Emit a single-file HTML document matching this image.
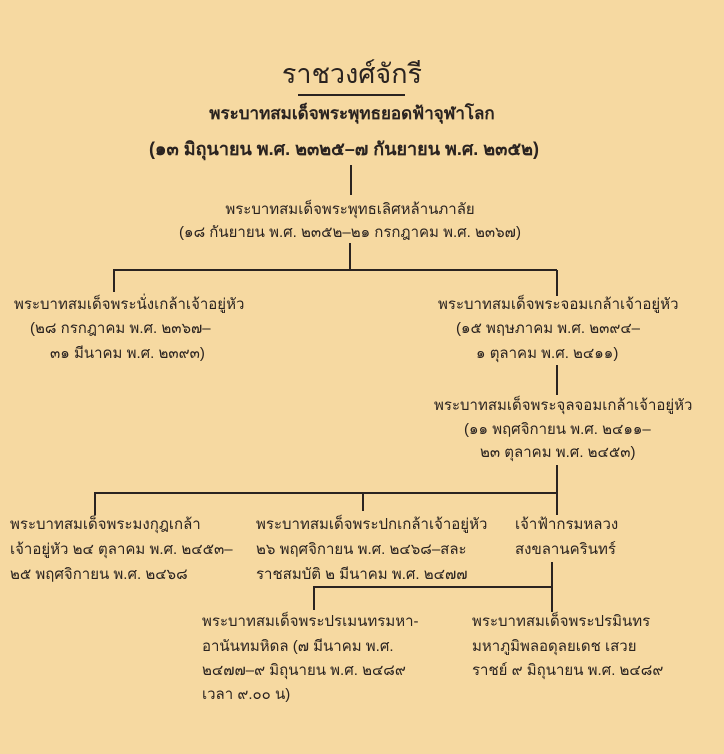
<!DOCTYPE html>
<html><head><meta charset="utf-8"><style>
html,body{margin:0;padding:0}
body{width:724px;height:754px;background:#f6d9a1;position:relative;overflow:hidden;font-family:"Liberation Sans",sans-serif;color:#2a2320}
.t{position:absolute;white-space:nowrap;font-size:15px;line-height:18px}
.c{transform:translateX(-50%);text-align:center}
.l{position:absolute;background:#2a2320}
</style></head><body>
<div class="t c" style="left:352px;top:58px;font-size:27px;line-height:32px">ราชวงศ์จักรี</div>
<div class="l" style="left:298px;top:94px;width:107px;height:2px"></div>
<div class="t c" style="left:352px;top:105px;font-size:17px;font-weight:bold">พระบาทสมเด็จพระพุทธยอดฟ้าจุฬาโลก</div>
<div class="t c" style="left:344px;top:140px;font-size:18px;font-weight:bold">(๑๓ มิถุนายน พ.ศ. ๒๓๒๕–๗ กันยายน พ.ศ. ๒๓๕๒)</div>
<div class="l" style="left:350px;top:165px;width:1.5px;height:30px"></div>
<div class="t c" style="left:350px;top:201px">พระบาทสมเด็จพระพุทธเลิศหล้านภาลัย</div>
<div class="t c" style="left:350px;top:224px">(๑๘ กันยายน พ.ศ. ๒๓๕๒–๒๑ กรกฎาคม พ.ศ. ๒๓๖๗)</div>
<div class="l" style="left:349px;top:243px;width:1.5px;height:27px"></div>
<div class="l" style="left:113px;top:269px;width:444px;height:2px"></div>
<div class="l" style="left:113px;top:270px;width:1.5px;height:22px"></div>
<div class="l" style="left:556px;top:270px;width:1.5px;height:26px"></div>
<div class="t" style="left:14px;top:296px">พระบาทสมเด็จพระนั่งเกล้าเจ้าอยู่หัว</div>
<div class="t" style="left:30px;top:320px">(๒๘ กรกฎาคม พ.ศ. ๒๓๖๗–</div>
<div class="t" style="left:50px;top:345px">๓๑ มีนาคม พ.ศ. ๒๓๙๓)</div>
<div class="t" style="left:438px;top:296px">พระบาทสมเด็จพระจอมเกล้าเจ้าอยู่หัว</div>
<div class="t" style="left:456px;top:320px">(๑๕ พฤษภาคม พ.ศ. ๒๓๙๔–</div>
<div class="t" style="left:476px;top:345px">๑ ตุลาคม พ.ศ. ๒๔๑๑)</div>
<div class="l" style="left:556px;top:365px;width:1.5px;height:30px"></div>
<div class="t" style="left:434px;top:397px">พระบาทสมเด็จพระจุลจอมเกล้าเจ้าอยู่หัว</div>
<div class="t" style="left:464px;top:421px">(๑๑ พฤศจิกายน พ.ศ. ๒๔๑๑–</div>
<div class="t" style="left:480px;top:444px">๒๓ ตุลาคม พ.ศ. ๒๔๕๓)</div>
<div class="l" style="left:556px;top:465px;width:1.5px;height:50px"></div>
<div class="l" style="left:94px;top:492px;width:463px;height:2px"></div>
<div class="l" style="left:94px;top:493px;width:1.5px;height:22px"></div>
<div class="l" style="left:362px;top:493px;width:1.5px;height:18px"></div>
<div class="t" style="left:10px;top:516px">พระบาทสมเด็จพระมงกุฎเกล้า</div>
<div class="t" style="left:10px;top:541px">เจ้าอยู่หัว ๒๔ ตุลาคม พ.ศ. ๒๔๕๓–</div>
<div class="t" style="left:10px;top:566px">๒๕ พฤศจิกายน พ.ศ. ๒๔๖๘</div>
<div class="t" style="left:256px;top:516px">พระบาทสมเด็จพระปกเกล้าเจ้าอยู่หัว</div>
<div class="t" style="left:256px;top:541px">๒๖ พฤศจิกายน พ.ศ. ๒๔๖๘–สละ</div>
<div class="t" style="left:256px;top:566px">ราชสมบัติ  ๒ มีนาคม พ.ศ. ๒๔๗๗</div>
<div class="t" style="left:515px;top:516px">เจ้าฟ้ากรมหลวง</div>
<div class="t" style="left:515px;top:541px">สงขลานครินทร์</div>
<div class="l" style="left:551px;top:562px;width:1.5px;height:50px"></div>
<div class="l" style="left:313px;top:586px;width:239px;height:2px"></div>
<div class="l" style="left:313px;top:587px;width:1.5px;height:23px"></div>
<div class="t" style="left:202px;top:613px">พระบาทสมเด็จพระปรเมนทรมหา-</div>
<div class="t" style="left:202px;top:638px">อานันทมหิดล (๗ มีนาคม  พ.ศ.</div>
<div class="t" style="left:202px;top:662px">๒๔๗๗–๙ มิถุนายน  พ.ศ. ๒๔๘๙</div>
<div class="t" style="left:202px;top:686px">เวลา ๙.๐๐ น)</div>
<div class="t" style="left:472px;top:613px">พระบาทสมเด็จพระปรมินทร</div>
<div class="t" style="left:472px;top:638px">มหาภูมิพลอดุลยเดช  เสวย</div>
<div class="t" style="left:472px;top:662px">ราชย์ ๙ มิถุนายน พ.ศ. ๒๔๘๙</div>
</body></html>
